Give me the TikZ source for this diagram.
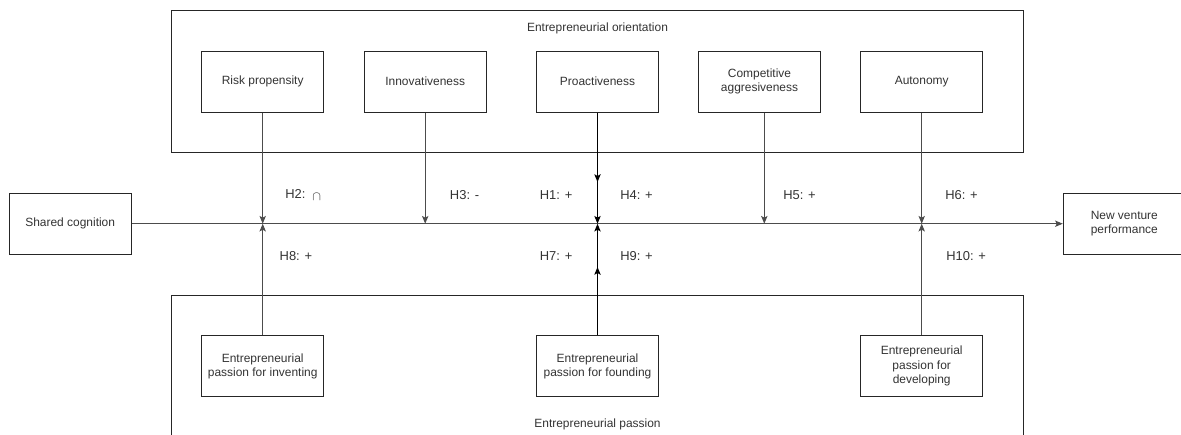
\documentclass[tikz,border=0pt]{standalone}
\usepackage{fontspec}
\setmainfont{Liberation Sans}
\usetikzlibrary{arrows.meta, positioning}

\begin{document}
\begin{tikzpicture}[
  x=0.025cm,
  y=-0.025cm,
  construct/.style={
    draw=black!85,
    line width=0.7pt,
    fill=white,
    minimum width=3.05cm,
    minimum height=1.525cm,
    align=center,
    font=\fontsize{8.5}{10.2}\selectfont,
    text=black!80,
    inner sep=2pt
  },
  groupbox/.style={
    draw=black!85,
    line width=0.7pt
  },
  grouptitle/.style={
    font=\fontsize{8.5}{10.2}\selectfont,
    text=black!80,
    inner sep=0pt
  },
  hyp/.style={
    anchor=west,
    font=\fontsize{9.2}{11}\selectfont,
    text=black!80,
    inner sep=0pt
  },
  arrow/.style={
    -{Stealth[length=5.5pt,width=4.5pt,inset=1.2pt]},
    line width=0.7pt,
    draw=black!70
  },
  strongarrow/.style={
    -{Stealth[length=5.5pt,width=4.5pt,inset=1.2pt]},
    line width=0.8pt,
    draw=black
  }
]
\useasboundingbox (0,0) rectangle (1181,434);

% =========================================================
% Entrepreneurial orientation
% =========================================================

\draw[groupbox] (171.4,10.7) rectangle (1023.5,152.7);

\node[grouptitle] (eotitle) at (597.5,28.3)
{Entrepreneurial orientation};

\node[construct] (risk) at (262.7,81.5) {Risk propensity};
\node[construct] (innov) at (425.2,81.5) {Innovativeness};
\node[construct] (proact) at (597.5,81.5) {Proactiveness};
\node[construct] (compet) at (759.5,81.5) {Competitive\\aggresiveness};
\node[construct] (auton) at (921.7,81.5) {Autonomy};


% =========================================================
% Entrepreneurial passion
% =========================================================

\draw[groupbox] (171.4,295) rectangle (1023.5,470);

\node[grouptitle] (eptitle) at (597.5,424.5)
{Entrepreneurial passion};

\node[construct] (invent) at (262.7,366.2)
{Entrepreneurial\\passion for inventing};
\node[construct] (found) at (597.5,366.2)
{Entrepreneurial\\passion for founding};
\node[construct] (develop) at (921.7,366.2)
{Entrepreneurial\\passion for\\developing};


% =========================================================
% Main relationship
% =========================================================

\node[construct] (shared) at (70.2,223.7) {Shared cognition};
\node[construct] (nvp) at (1124.3,223.7) {New venture\\performance};

\draw[arrow] (shared) -- (nvp);

% moderators from above
\coordinate (h1end) at (597.5,182);
\draw[arrow] (risk) -- (risk |- shared);
\draw[arrow] (innov) -- (innov |- shared);
\draw[strongarrow] (proact) -- (h1end);
\draw[strongarrow] (proact) -- (proact |- shared);
\draw[arrow] ([xshift=0.12cm]compet.south) -- ([xshift=0.12cm]compet.south |- shared);
\draw[arrow] (auton) -- (auton |- shared);

% moderators from below
\coordinate (h7end) at (597.5,267);
\draw[arrow] (invent) -- (invent |- shared);
\draw[strongarrow] (found) -- (h7end);
\draw[strongarrow] (found) -- (found |- shared);
\draw[arrow] (develop) -- (develop |- shared);

% hypotheses
\node[hyp] (h2) at (285,195) {H2:\hspace{5pt}\raisebox{-2pt}{$\cap$}};
\node[hyp] (h3) at (449.7,195) {H3: -};
\node[hyp] (h1) at (539.6,195) {H1: +};
\node[hyp] (h4) at (620,195) {H4: +};
\node[hyp] (h5) at (783,195) {H5: +};
\node[hyp] (h6) at (945,195) {H6: +};
\node[hyp] (h8) at (279.4,255.7) {H8: +};
\node[hyp] (h7) at (539.6,255.7) {H7: +};
\node[hyp] (h9) at (620,255.7) {H9: +};
\node[hyp] (h10) at (946,255.7) {H10: +};

\end{tikzpicture}
\end{document}
